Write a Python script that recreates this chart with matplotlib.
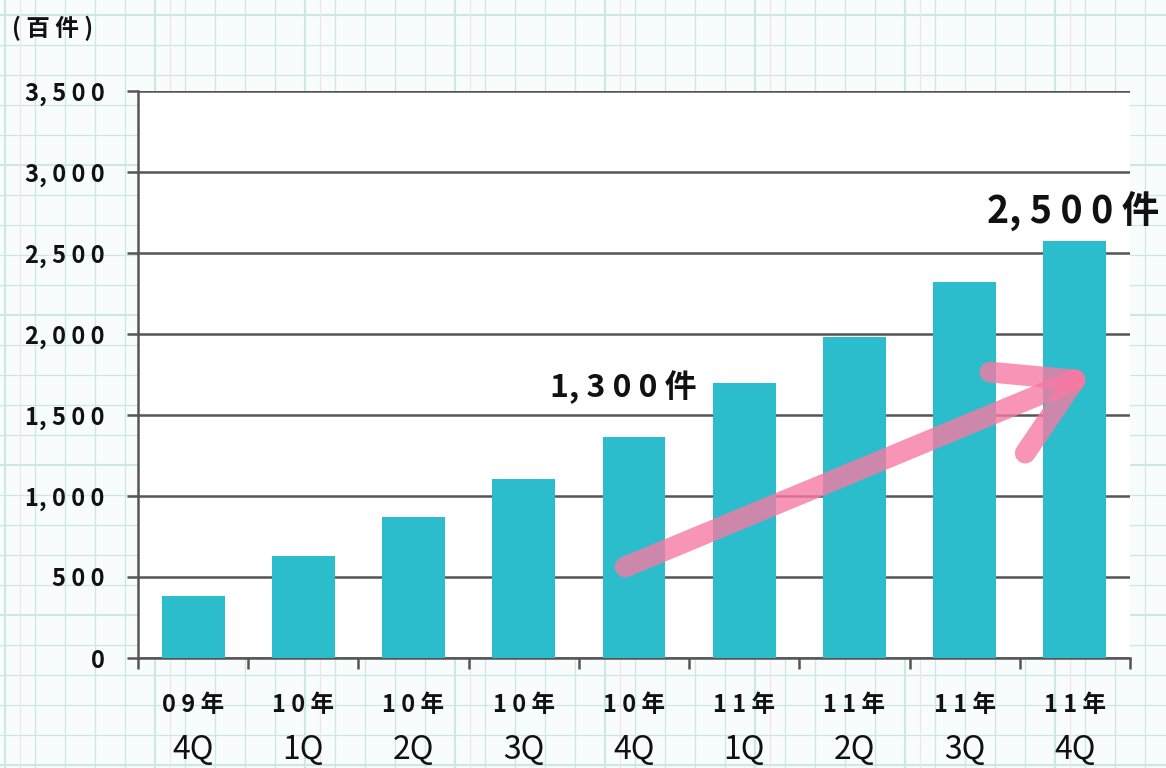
import matplotlib.pyplot as plt
import numpy as np
from matplotlib.lines import Line2D

plt.rcParams['font.family'] = ['Noto Sans CJK JP', 'DejaVu Sans']

years = ['09年', '10年', '10年', '10年', '10年', '11年', '11年', '11年', '11年']
quarters = ['4Q', '1Q', '2Q', '3Q', '4Q', '1Q', '2Q', '3Q', '4Q']
values = [383, 630, 870, 1105, 1364, 1697, 1981, 2321, 2574]
yticks = [0, 500, 1000, 1500, 2000, 2500, 3000, 3500]

BAR = '#2bbdcb'
PINK = '#f77aa3'

W, H = 1166, 768
fig = plt.figure(figsize=(W / 100, H / 100), dpi=100)
fig.patch.set_facecolor('#f8fcfc')

# graph paper background
for x in range(5, W, 30):
    lw = 1.5 if (x - 5) % 150 == 0 else 0.9
    fig.add_artist(Line2D([x / W, x / W], [0, 1], color='#cbe8e4', lw=lw, zorder=0))
for y in range(15, H, 30):
    lw = 1.5 if (y - 15) % 150 == 0 else 0.9
    fig.add_artist(Line2D([0, 1], [1 - y / H, 1 - y / H], color='#cbe8e4', lw=lw, zorder=0))
for x in range(20, W, 150):
    fig.add_artist(Line2D([x / W, x / W], [0, 1], color='#f6e1e8', lw=0.8, zorder=0))


def spaced(s):
    return ' '.join(s).replace(' ,', ',')


ax = fig.add_axes([138 / W, 1 - 658 / H, (1130 - 138) / W, (658 - 91) / H])
ax.set_facecolor('white')

x = np.arange(len(values))
ax.bar(x, values, width=0.57, color=BAR, zorder=3)

ax.set_xlim(-0.5, len(values) - 0.5)
ax.set_ylim(0, 3500)
ax.set_yticks(yticks)
ax.set_yticklabels([spaced(f'{v:,}') for v in yticks],
                   fontsize=17, fontweight='bold', color='#111111')
ax.yaxis.grid(True, color='#555555', lw=1.8, zorder=1)
ax.tick_params(axis='y', length=8, width=1.8, color='#555555', pad=16)

ax.set_xticks(np.arange(-0.5, len(values), 1.0))
ax.set_xticklabels([])
ax.tick_params(axis='x', length=8, width=1.8, color='#555555')

for s in ['top', 'right']:
    ax.spines[s].set_visible(False)
for s in ['left', 'bottom']:
    ax.spines[s].set_color('#555555')
    ax.spines[s].set_linewidth(1.8)

trans = ax.get_xaxis_transform()
for i in range(len(values)):
    ax.text(i, -0.083, spaced(years[i]), transform=trans, ha='center', va='center',
            fontsize=17, fontweight='bold', color='#111111')
    ax.text(i, -0.163, quarters[i], transform=trans, ha='center', va='center',
            fontsize=23, color='#111111')

fig.text(12 / W, 1 - 28 / H, '( 百 件 )', fontsize=17, ha='left', va='center',
         fontweight='bold', color='#111111')

# pink arrow
arrow_kw = dict(color=PINK, lw=15, alpha=0.8, solid_capstyle='round', zorder=4)
ax.plot([3.92, 8.0], [562, 1716], **arrow_kw)
ax.plot([7.23, 8.0], [1765, 1716], **arrow_kw)
ax.plot([7.55, 8.0], [1265, 1716], **arrow_kw)

ax.text(3.9, 1673, '1, 3 0 0 件', fontsize=23, ha='center', va='center',
        fontweight='bold', color='#111111', zorder=5)
ax.text(7.98, 2753, '2, 5 0 0 件', fontsize=27, ha='center', va='center',
        fontweight='bold', color='#111111', zorder=5, clip_on=False)

fig.savefig('out.png', dpi=100, facecolor=fig.get_facecolor())
